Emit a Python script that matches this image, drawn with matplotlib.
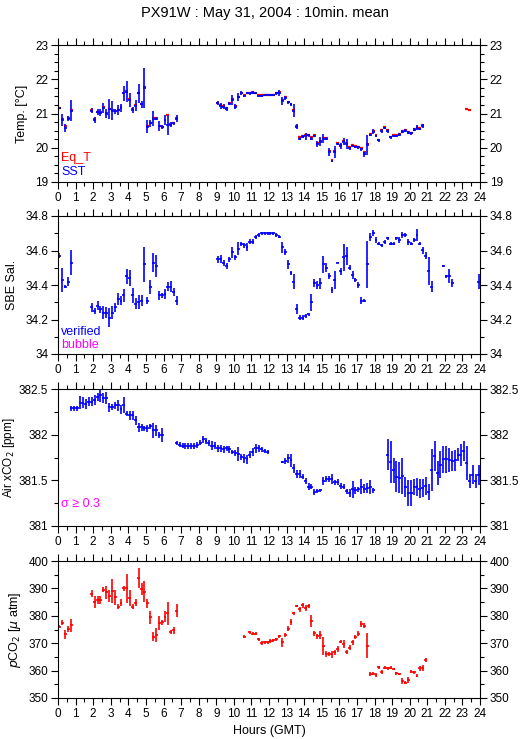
import numpy as np
import matplotlib
matplotlib.use("Agg")
import matplotlib.pyplot as plt
from matplotlib.ticker import MultipleLocator, FuncFormatter

plt.rcParams['font.family'] = ['Liberation Sans', 'DejaVu Sans']

# 10-minute bins over one day (bin k is centred at (k + 0.5) / 6 hours)
N_BINS = 144
hours = (np.arange(N_BINS) + 0.5) / 6.0

# ---- Temperature panel -------------------------------------------------
sst_start = [0, 11, 54]
sst = [
    [21.16, 20.81, 20.58, 20.85, 21.08],
    [21.08, 20.81, 21.05, 21.02, 21.16, 21.00, 21.12, 21.08, 21.06, 21.10,
     21.17, 21.59, 21.64, 21.39, 21.10, 21.23, 21.59, 21.27, 21.75, 20.62,
     20.71, 20.85, 20.85, 20.63, 20.60, 20.81, 20.67, 20.67, 20.71, 20.85],
    [21.30, 21.23, 21.20, 21.13, 21.29, 21.39, 21.20, 21.48, 21.59, 21.51,
     21.60, 21.59, 21.61, 21.59, 21.51, 21.51, 21.54, 21.54, 21.54, 21.54,
     21.59, 21.61, 21.37, 21.46, 21.33, 21.27, 21.08, 20.62, 20.27, 20.32,
     20.34, 20.36, 20.27, 20.34, 20.11, 20.18, 20.27, 20.27, 19.88, 19.61,
     19.88, 20.11, 20.05, 20.18, 20.11, 19.98, 20.05, 20.02, 20.01, 19.95,
     19.81, 20.08, 20.37, 20.47, 20.34, 20.22, 20.49, 20.58, 20.49, 20.30,
     20.34, 20.34, 20.38, 20.47, 20.50, 20.44, 20.42, 20.53, 20.59, 20.55,
     20.64],
]
sst_err = [
    [0.03, 0.17, 0.11, 0.08, 0.30],
    [0.07, 0.09, 0.08, 0.10, 0.14, 0.12, 0.29, 0.28, 0.08, 0.15,
     0.12, 0.22, 0.30, 0.20, 0.09, 0.17, 0.28, 0.10, 0.58, 0.18,
     0.10, 0.22, 0.04, 0.14, 0.05, 0.15, 0.30, 0.07, 0.05, 0.11],
    [0.06, 0.09, 0.08, 0.07, 0.05, 0.15, 0.07, 0.12, 0.06, 0.04,
     0.04, 0.04, 0.04, 0.03, 0.04, 0.04, 0.03, 0.03, 0.03, 0.03,
     0.04, 0.09, 0.12, 0.06, 0.04, 0.04, 0.19, 0.08, 0.04, 0.04,
     0.10, 0.04, 0.04, 0.04, 0.08, 0.13, 0.14, 0.04, 0.12, 0.03,
     0.18, 0.04, 0.10, 0.10, 0.15, 0.04, 0.04, 0.04, 0.04, 0.04,
     0.08, 0.30, 0.04, 0.07, 0.04, 0.04, 0.07, 0.04, 0.05, 0.04,
     0.04, 0.04, 0.04, 0.04, 0.04, 0.04, 0.05, 0.04, 0.06, 0.04,
     0.05],
]
eqt_start = [0, 11, 54, 139]
eqt = [
    [21.17, 20.84, 20.63, 20.86, 21.11],
    [21.09, 20.83, 21.05, 21.03, 21.20, 21.01, 21.14, 21.10, 21.07, 21.11,
     21.20, 21.60, 21.66, 21.41, 21.12, 21.24, 21.59, 21.27, 21.76, 20.63,
     20.72, 20.86, 20.86, 20.64, 20.61, 20.82, 20.97, 20.68, 20.72, 20.86],
    [21.31, 21.25, 21.21, 21.15, 21.30, 21.41, 21.21, 21.49, 21.60, 21.53,
     21.61, 21.60, 21.62, 21.60, 21.53, 21.53, 21.55, 21.55, 21.55, 21.55,
     21.60, 21.62, 21.38, 21.47, 21.34, 21.29, 21.09, 20.64, 20.32, 20.33,
     20.36, 20.38, 20.30, 20.36, 20.13, 20.20, 20.28, 20.28, 19.90, 19.63,
     19.90, 20.13, 20.07, 20.20, 20.13, 20.01, 20.09, 20.05, 20.03, 19.98,
     19.87, 20.10, 20.39, 20.49, 20.36, 20.24, 20.53, 20.60, 20.51, 20.32,
     20.36, 20.36, 20.40, 20.48, 20.51, 20.46, 20.44, 20.55, 20.61, 20.57,
     20.66],
    [21.12, 21.09],
]

# ---- Salinity panel ----------------------------------------------------
sal_start = [0, 11, 54, 131, 143]
sal = [
    [34.57, 34.43, 34.39, 34.42, 34.53],
    [34.27, 34.25, 34.28, 34.26, 34.24, 34.24, 34.21, 34.24, 34.27, 34.32,
     34.31, 34.34, 34.45, 34.44, 34.34, 34.29, 34.30, 34.31, 34.52, 34.31,
     34.39, 34.53, 34.51, 34.34, 34.34, 34.35, 34.39, 34.39, 34.36, 34.31],
    [34.55, 34.55, 34.53, 34.51, 34.55, 34.59, 34.56, 34.61, 34.64, 34.63,
     34.62, 34.65, 34.65, 34.68, 34.69, 34.70, 34.70, 34.70, 34.70, 34.70,
     34.69, 34.68, 34.62, 34.59, 34.52, 34.47, 34.42, 34.26, 34.21, 34.21,
     34.22, 34.23, 34.30, 34.41, 34.40, 34.41, 34.52, 34.50, 34.45, 34.37,
     34.43, 34.53, 34.48, 34.56, 34.57, 34.50, 34.46, 34.43, 34.40, 34.31,
     34.31, 34.52, 34.68, 34.70, 34.66, 34.64, 34.63, 34.65, 34.67, 34.64,
     34.64, 34.67, 34.66, 34.69, 34.69, 34.65, 34.64, 34.66, 34.69, 34.64,
     34.60, 34.57, 34.48, 34.39],
    [34.51, 34.45, 34.45, 34.41],
    [34.42],
]
sal_err = [
    [0.016, 0.068, 0.008, 0.024, 0.074],
    [0.025, 0.016, 0.027, 0.021, 0.039, 0.034, 0.056, 0.039, 0.027, 0.036,
     0.026, 0.039, 0.042, 0.046, 0.044, 0.032, 0.041, 0.031, 0.102, 0.022,
     0.041, 0.053, 0.063, 0.026, 0.014, 0.029, 0.026, 0.031, 0.024, 0.027],
    [0.021, 0.024, 0.017, 0.015, 0.014, 0.031, 0.015, 0.037, 0.012, 0.013,
     0.021, 0.015, 0.014, 0.012, 0.010, 0.010, 0.010, 0.010, 0.010, 0.010,
     0.010, 0.010, 0.032, 0.016, 0.026, 0.013, 0.045, 0.029, 0.015, 0.015,
     0.010, 0.010, 0.050, 0.022, 0.024, 0.032, 0.048, 0.027, 0.017, 0.017,
     0.053, 0.005, 0.020, 0.077, 0.053, 0.015, 0.024, 0.010, 0.019, 0.018,
     0.010, 0.137, 0.023, 0.017, 0.019, 0.010, 0.010, 0.010, 0.010, 0.010,
     0.010, 0.010, 0.017, 0.015, 0.010, 0.016, 0.010, 0.010, 0.033, 0.010,
     0.020, 0.020, 0.080, 0.032],
    [0.005, 0.010, 0.040, 0.022],
    [0.043],
]

# ---- Air xCO2 panel ----------------------------------------------------
xco2_start = [4, 40, 76, 112]
xco2 = [
    [382.29, 382.29, 382.29, 382.35, 382.35, 382.34, 382.36, 382.36, 382.38, 382.41,
     382.43, 382.40, 382.40, 382.30, 382.30, 382.32, 382.32, 382.28, 382.32, 382.23,
     382.21, 382.21, 382.16, 382.08, 382.08, 382.07, 382.07, 382.09, 382.05, 382.05,
     382.00, 382.00],
    [381.91, 381.89, 381.88, 381.88, 381.88, 381.88, 381.88, 381.89, 381.91, 381.95,
     381.93, 381.91, 381.88, 381.88, 381.85, 381.85, 381.84, 381.85, 381.84, 381.81,
     381.80, 381.79, 381.76, 381.74, 381.73, 381.78, 381.81, 381.85, 381.85, 381.84,
     381.82, 381.81],
    [381.70, 381.71, 381.74, 381.72, 381.63, 381.57, 381.57, 381.54, 381.49, 381.43,
     381.43, 381.37, 381.38, 381.39, 381.49, 381.51, 381.51, 381.51, 381.48, 381.48,
     381.44, 381.43, 381.38, 381.36, 381.40, 381.39, 381.40, 381.43, 381.41, 381.42,
     381.43, 381.39],
    [381.78, 381.70, 381.61, 381.54, 381.53, 381.55, 381.43, 381.36, 381.36, 381.43,
     381.43, 381.41, 381.42, 381.44, 381.37, 381.61, 381.77, 381.58, 381.67, 381.73,
     381.73, 381.72, 381.71, 381.72, 381.78, 381.78, 381.82, 381.69, 381.49, 381.56,
     381.49, 381.56],
]
xco2_err = [
    [0.026, 0.026, 0.026, 0.069, 0.060, 0.055, 0.049, 0.051, 0.055, 0.046,
     0.069, 0.058, 0.062, 0.047, 0.031, 0.036, 0.060, 0.049, 0.088, 0.027,
     0.046, 0.049, 0.049, 0.049, 0.036, 0.027, 0.036, 0.029, 0.082, 0.060,
     0.033, 0.078],
    [0.024, 0.027, 0.031, 0.033, 0.033, 0.033, 0.033, 0.031, 0.027, 0.036,
     0.036, 0.033, 0.051, 0.040, 0.042, 0.042, 0.036, 0.027, 0.036, 0.027,
     0.036, 0.073, 0.033, 0.047, 0.049, 0.036, 0.046, 0.046, 0.036, 0.027,
     0.018, 0.020],
    [0.013, 0.031, 0.047, 0.073, 0.046, 0.042, 0.042, 0.029, 0.031, 0.036,
     0.029, 0.036, 0.022, 0.018, 0.042, 0.033, 0.033, 0.055, 0.027, 0.033,
     0.033, 0.029, 0.026, 0.046, 0.091, 0.036, 0.027, 0.082, 0.046, 0.055,
     0.077, 0.027],
    [0.172, 0.234, 0.137, 0.173, 0.173, 0.197, 0.109, 0.146, 0.146, 0.086,
     0.100, 0.106, 0.100, 0.100, 0.086, 0.232, 0.164, 0.128, 0.146, 0.146,
     0.146, 0.133, 0.109, 0.113, 0.073, 0.119, 0.109, 0.188, 0.078, 0.104,
     0.078, 0.109],
]

# ---- pCO2 panel --------------------------------------------------------
pco2_start = [0, 11, 63, 65, 106]
pco2 = [
    [376.0, 377.5, 373.2, 375.2, 376.6],
    [388.0, 385.0, 385.8, 385.8, 389.5, 388.6, 387.2, 389.1, 386.7, 383.3,
     384.8, 390.0, 390.0, 386.4, 383.3, 384.8, 393.7, 389.8, 388.8, 384.5,
     379.4, 372.4, 373.0, 377.3, 377.6, 379.7, 380.9, 374.0, 374.7, 381.8],
    [372.4],
    [374.0, 373.5, 373.5, 371.4, 370.1, 370.3,
     370.3, 370.8, 371.0, 371.4, 372.5, 370.3, 373.0, 375.2, 377.6, 380.9,
     383.6, 382.4, 383.9, 383.0, 383.6, 378.1, 373.6, 372.6, 373.0, 369.0,
     365.9, 366.2, 365.9, 366.7, 367.9, 370.6, 369.6, 366.9, 368.4, 370.3,
     372.3, 373.5, 377.0, 376.4, 369.1],
    [358.8, 358.9, 358.5, 361.2, 359.6, 361.1, 360.8, 361.1, 360.6, 359.0,
     358.8, 356.2, 355.6, 356.6, 359.6, 359.4, 358.2, 360.8, 361.1, 364.0],
]
pco2_err = [
    [0.6, 0.9, 1.8, 1.0, 2.4],
    [1.3, 2.1, 1.4, 1.4, 0.9, 2.4, 2.3, 4.4, 2.7, 0.9,
     1.3, 1.0, 5.2, 2.9, 0.9, 1.2, 3.6, 2.3, 3.8, 1.7,
     2.3, 1.7, 2.7, 2.6, 0.8, 1.9, 4.3, 0.7, 1.3, 2.4],
    [0.6],
    [0.6, 0.6, 0.6, 0.6, 0.6, 0.6,
     0.5, 0.6, 0.6, 0.6, 0.6, 1.6, 0.8, 0.9, 1.1, 0.6,
     0.5, 0.9, 0.9, 1.1, 0.7, 2.3, 0.9, 0.9, 1.6, 3.2,
     1.1, 0.7, 1.3, 0.9, 1.2, 0.6, 1.5, 0.8, 0.8, 0.9,
     0.6, 0.8, 1.0, 0.9, 4.6],
    [0.6, 0.6, 0.8, 0.6, 0.7, 0.5, 0.5, 0.5, 0.5, 0.6,
     0.5, 1.2, 0.5, 1.2, 0.6, 0.5, 0.7, 0.8, 1.1, 0.7],
]

hour_ticks = list(range(0, 25))


def day_series(starts, segments):
    out = np.full(N_BINS, np.nan)
    for s, seg in zip(starts, segments):
        out[s:s + len(seg)] = seg
    return out


def draw(ax, starts, vals, errs, color, lw=1.2):
    y = day_series(starts, vals)
    ok = ~np.isnan(y)
    if errs is None:
        ax.errorbar(hours[ok], y[ok], xerr=1 / 12, fmt='none',
                    ecolor=color, elinewidth=lw + 0.4, capsize=0)
    else:
        e = day_series(starts, errs)
        ax.errorbar(hours[ok], y[ok], yerr=e[ok], xerr=1 / 12, fmt='none',
                    ecolor=color, elinewidth=lw, capsize=0)


fig = plt.figure(figsize=(5.29, 7.39), dpi=100)
H = 739.0
W = 529.0
frames = [(45, 182), (216, 354), (389, 526), (561, 698)]
axes = []
for top, bot in frames:
    ax = fig.add_axes([58 / W, 1 - bot / H, 422 / W, (bot - top) / H])
    axes.append(ax)

fmt = FuncFormatter(lambda v, p: '%g' % round(v, 3))
ylims = [(19, 23), (34, 34.8), (381, 382.5), (350, 400)]
ymaj = [1, 0.2, 0.5, 10]
ymin = [0.25, 0.1, 0.25, 5]
ylabels = ['Temp. [\u00b0C]', 'SBE Sal.', 'Air xCO$_2$ [ppm]', '$p$CO$_2$ [$\\mu$ atm]']
# x position (axes fraction) of the right edge of each rotated y label
ylab_x = [-0.071, -0.095, -0.098, -0.083]

for i, ax in enumerate(axes):
    ax.set_xlim(0, 24)
    ax.set_ylim(*ylims[i])
    ax.set_xticks(hour_ticks)
    ax.xaxis.set_minor_locator(MultipleLocator(0.5))
    ax.yaxis.set_major_locator(MultipleLocator(ymaj[i]))
    ax.yaxis.set_minor_locator(MultipleLocator(ymin[i]))
    ax.yaxis.set_major_formatter(fmt)
    ax.tick_params(which='both', direction='out', top=True, right=True,
                   labelright=True, labelsize=8.5, width=0.8, pad=2)
    ax.tick_params(which='major', length=5)
    ax.tick_params(which='minor', length=3)
    for sp in ax.spines.values():
        sp.set_linewidth(0.8)
    ax.set_ylabel(ylabels[i], fontsize=9 if i != 2 else 8.5)
    ax.yaxis.set_label_coords(ylab_x[i], 0.5)

# panel 1: temperatures
draw(axes[0], eqt_start, eqt, None, 'red')
draw(axes[0], sst_start, sst, sst_err, 'blue')
axes[0].text(0.007, 0.175, 'Eq_T', color='red', fontsize=9,
             transform=axes[0].transAxes, va='center')
axes[0].text(0.007, 0.073, 'SST', color='blue', fontsize=9,
             transform=axes[0].transAxes, va='center')

# panel 2: salinity
draw(axes[1], sal_start, sal, sal_err, 'blue')
axes[1].text(0.007, 0.16, 'verified', color='blue', fontsize=9,
             transform=axes[1].transAxes, va='center')
axes[1].text(0.007, 0.065, 'bubble', color='magenta', fontsize=9,
             transform=axes[1].transAxes, va='center')

# panel 3: air xCO2
draw(axes[2], xco2_start, xco2, xco2_err, 'blue')
axes[2].text(0.007, 0.16, '\u03c3 \u2265 0.3', color='magenta', fontsize=9,
             transform=axes[2].transAxes, va='center')

# panel 4: pCO2
draw(axes[3], pco2_start, pco2, pco2_err, 'red')
axes[3].set_xlabel('Hours (GMT)', fontsize=9)
axes[3].xaxis.set_label_coords(0.5, -0.2)

fig.text(0.5, 1 - 13 / H, 'PX91W : May 31, 2004 : 10min. mean',
         ha='center', va='center', fontsize=10.5)

fig.savefig('out.png', dpi=100)
